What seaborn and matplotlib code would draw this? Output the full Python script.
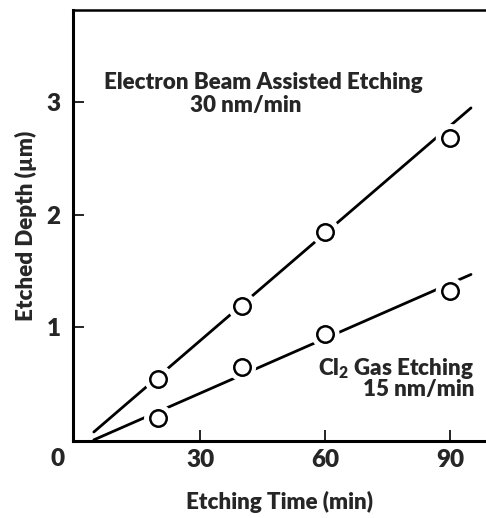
import matplotlib
matplotlib.use("Agg")
import matplotlib.pyplot as plt
import seaborn as sns
import pandas as pd

# Data
time_pts = [20, 40, 60, 90]
eba_depth = [0.54, 1.19, 1.85, 2.68]
cl2_depth = [0.19, 0.65, 0.94, 1.32]
fit_time = [4.5, 95]
eba_fit = [0.07, 2.95]
cl2_fit = [0.0, 1.47]
x_ticks = [30, 60, 90]
y_ticks = [1, 2, 3]

sns.set_theme(style="white")
plt.rcParams['font.family'] = ['Lato', 'DejaVu Sans']
plt.rcParams['font.weight'] = 'heavy'
plt.rcParams['mathtext.default'] = 'regular'

W = 'heavy'
FS = 16.1

fig = plt.figure(figsize=(4.86, 5.18), dpi=100)
ax = fig.add_axes([73/486, 1 - 441/518, 1 - 73/486, (441 - 10)/518])

fit_df = pd.DataFrame({"t": fit_time * 2,
                       "d": eba_fit + cl2_fit,
                       "s": ["eba"] * 2 + ["cl2"] * 2})
pts_df = pd.DataFrame({"t": time_pts * 2,
                       "d": eba_depth + cl2_depth,
                       "s": ["eba"] * 4 + ["cl2"] * 4})

sns.lineplot(data=fit_df, x="t", y="d", units="s", estimator=None,
             color="black", lw=2.0, ax=ax, legend=False)
# white halo to create gaps in the lines around markers
sns.scatterplot(data=pts_df, x="t", y="d", s=430, color="white",
                edgecolor="none", ax=ax, legend=False, zorder=3)
sns.scatterplot(data=pts_df, x="t", y="d", s=140, facecolor="white",
                edgecolor="black", linewidth=1.8, ax=ax, legend=False, zorder=4)

ax.set_xlim(-0.5, 98.6)
ax.set_ylim(-0.01, 3.82)
ax.set_xticks(x_ticks)
ax.set_yticks(y_ticks)
ax.set_xticklabels([str(v) for v in x_ticks], fontsize=17.5, fontweight=W)
ax.set_yticklabels([str(v) for v in y_ticks], fontsize=17.5, fontweight=W)
ax.tick_params(axis='both', direction='in', length=8, width=1.2, color='black',
               bottom=True, left=True)
ax.tick_params(axis='x', pad=6)
ax.tick_params(axis='y', pad=9)

for side in ['left', 'bottom']:
    ax.spines[side].set_linewidth(2.2)
    ax.spines[side].set_color('black')
ax.spines['top'].set_linewidth(1.8)
ax.spines['top'].set_color('black')
ax.spines['right'].set_visible(False)

ax.set_xlabel("Etching Time (min)", fontsize=FS, fontweight=W, labelpad=14)
ax.set_ylabel("Etched Depth (µm)", fontsize=FS, fontweight=W, labelpad=7)

ax.text(-2.6, -0.07, "0", fontsize=17.5, fontweight=W, ha='right', va='top')

ax.text(7.0, 3.18, "Electron Beam Assisted Etching", fontsize=FS,
        fontweight=W, ha='left', va='center')
ax.text(41, 2.97, "30 nm/min", fontsize=FS, fontweight=W,
        ha='center', va='center')
ax.text(95.8, 0.55, "Cl$_{2}$ Gas Etching\n15 nm/min", fontsize=FS,
        fontweight=W, ha='right', va='center', multialignment='right',
        linespacing=0.85)

fig.savefig("out.png", dpi=100)
